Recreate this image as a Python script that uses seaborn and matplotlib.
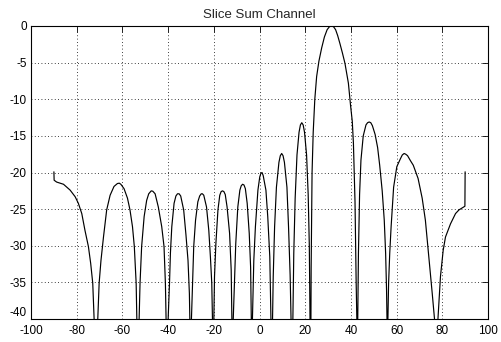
import matplotlib
matplotlib.use("Agg")
import matplotlib.pyplot as plt
import numpy as np
import pandas as pd
import seaborn as sns

# Sum-channel pattern slice: angle (deg) and normalised gain (dB)
angle_deg = [
    -90.0, -89.9, -88.8, -85.8, -82.9, -80.7, -79.3, -77.8, -76.4, -74.9, -73.9, -73.0, -72.4, -71.7,
    -70.8, -70.2, -69.4, -68.3, -66.9, -65.4, -63.7, -62.2, -61.4, -60.7, -59.3, -57.8, -56.7, -55.6, -54.8, -54.0, -53.7, -53.2,
    -52.7, -52.3, -51.6, -50.5, -49.4, -48.5, -47.4, -46.7, -45.7, -44.3, -42.8, -41.8, -41.2, -40.9, -40.5,
    -40.0, -39.4, -39.0, -38.4, -37.4, -36.6, -35.9, -35.2, -34.5, -33.2, -32.2, -31.3, -30.7, -30.5, -30.1,
    -29.8, -29.3, -28.8, -28.0, -27.0, -26.2, -25.5, -25.0, -24.4, -23.2, -22.2, -21.5, -20.9, -20.6, -20.3,
    -20.0, -19.7, -19.1, -18.2, -17.4, -16.8, -16.2, -15.6, -15.0, -14.2, -13.1, -12.4, -12.1, -11.8,
    -11.5, -10.9, -10.4, -9.5, -8.6, -8.0, -7.4, -6.8, -6.2, -5.4, -4.5, -3.9, -3.6, -3.3,
    -3.1, -2.5, -1.8, -0.7, 0.1, 0.6, 1.1, 1.6, 2.8, 3.6, 4.5, 5.0, 5.3,
    5.7, 6.0, 6.6, 7.4, 8.5, 9.1, 9.7, 10.3, 10.9, 12.0, 12.7, 13.4, 13.8, 14.2,
    14.6, 15.0, 15.6, 16.4, 17.3, 17.9, 18.5, 19.1, 19.7, 20.6, 21.3, 21.8, 22.1, 22.3,
    22.6, 23.0, 23.5, 24.2, 25.0, 26.0, 27.2, 28.4, 29.6, 30.6, 31.5, 32.4, 33.3, 34.2, 35.2, 36.3, 37.4,
    38.9, 39.9, 40.6, 41.1, 41.8, 42.3, 42.6, 42.8,
    43.0, 43.3, 43.8, 44.4, 45.4, 46.6, 47.3, 48.0, 48.7, 49.4, 50.6, 51.7, 52.6, 53.7, 54.6, 55.2, 55.6, 55.8, 56.0,
    56.2, 56.5, 57.0, 57.6, 58.7, 60.1, 61.7, 62.5, 63.3, 64.0, 64.8, 66.1, 67.3, 69.4, 71.2, 72.6, 74.1, 75.6, 76.6, 77.3,
    78.1, 79.2, 80.4, 81.4, 83.6, 85.8, 87.3, 89.9, 90.0,
]
gain_db = [
    -19.9, -21.05, -21.3, -21.6, -22.4, -23.3, -24.2, -25.6, -27.9, -30.1, -32.4, -35.1, -40.0, -55.0,
    -40.0, -35.1, -32.0, -28.8, -25.1, -23.1, -21.9, -21.5, -21.45, -21.6, -22.2, -23.5, -25.1, -27.4, -30.1, -35.1, -40.0, -55.0,
    -40.0, -35.1, -30.1, -26.0, -23.8, -22.9, -22.5, -22.55, -22.9, -24.7, -27.4, -30.1, -35.1, -40.0, -55.0,
    -40.0, -35.1, -31.0, -27.4, -24.2, -23.2, -22.9, -22.9, -23.2, -25.1, -28.5, -32.0, -36.5, -40.0, -55.0,
    -40.0, -35.1, -30.1, -26.5, -24.0, -23.2, -22.9, -22.9, -23.1, -24.7, -27.9, -31.5, -35.1, -40.0, -55.0,
    -40.0, -34.2, -29.7, -25.1, -23.1, -22.6, -22.5, -22.6, -23.0, -24.7, -28.3, -33.3, -40.0, -55.0,
    -40.0, -34.2, -29.7, -24.7, -22.4, -21.8, -21.6, -21.7, -22.2, -24.2, -28.3, -32.9, -40.0, -55.0,
    -40.0, -32.0, -27.4, -22.4, -20.6, -20.1, -20.0, -20.4, -22.4, -26.0, -31.5, -40.0, -55.0,
    -40.0, -34.2, -27.4, -22.0, -18.6, -17.7, -17.4, -17.7, -18.6, -22.0, -27.4, -34.0, -40.0, -55.0,
    -40.0, -31.0, -23.5, -17.6, -14.5, -13.5, -13.2, -13.5, -14.5, -17.6, -23.0, -30.0, -40.0, -55.0,
    -33.0, -20.0, -14.5, -10.0, -6.9, -4.8, -3.0, -1.5, -0.5, -0.1, 0.0, -0.1, -0.5, -1.3, -2.4, -3.7, -5.1,
    -7.8, -11.0, -13.0, -16.0, -24.0, -35.0, -40.0, -55.0,
    -40.0, -31.0, -23.0, -18.3, -15.0, -13.5, -13.2, -13.1, -13.2, -13.6, -14.8, -16.6, -19.0, -22.5, -26.5, -31.0, -36.0, -40.0, -55.0,
    -40.0, -35.1, -31.0, -27.4, -22.0, -19.2, -18.1, -17.6, -17.4, -17.5, -17.7, -18.4, -19.0, -20.8, -23.5, -26.5, -31.5, -36.5, -40.0, -55.0,
    -40.0, -34.2, -30.6, -28.8, -27.0, -25.6, -25.1, -24.6, -19.9,
]

x_ticks = [-100, -80, -60, -40, -20, 0, 20, 40, 60, 80, 100]
y_ticks = [-40, -35, -30, -25, -20, -15, -10, -5, 0]
title_text = "Slice Sum Channel"

sns.set_style("white")
plt.rcParams["font.family"] = ["Liberation Sans", "DejaVu Sans"]
plt.rcParams["font.size"] = 8.5

df = pd.DataFrame({"angle": angle_deg, "gain": gain_db})

fig = plt.figure(figsize=(5.01, 3.42), dpi=100)
ax = fig.add_axes([0.062, 0.067, 0.912, 0.857])

sns.lineplot(data=df, x="angle", y="gain", estimator=None, sort=False,
             color="black", linewidth=0.85, ax=ax)

ax.set_xlim(-100, 100)
ax.set_ylim(-40, 0)
ax.set_xticks(x_ticks)
ax.set_yticks(y_ticks)
ax.set_xticklabels([str(v) for v in x_ticks])
ax.set_yticklabels([str(v) for v in y_ticks])
ax.set_xlabel("")
ax.set_ylabel("")
ax.set_title(title_text, fontsize=9.5, pad=5.5)

ax.grid(True, linestyle=(0, (1, 3)), color="black", linewidth=0.6)
ax.tick_params(direction="in", length=4, width=0.6, top=True, right=True,
               labelsize=8.5, colors="black")
ax.tick_params(axis="x", pad=4)
ax.tick_params(axis="y", pad=3)
# lift the lowest y label a little so it clears the first x label
ax.get_yticklabels()[0].set_va("bottom")
for side in ax.spines.values():
    side.set_visible(True)
    side.set_color("black")
    side.set_linewidth(0.8)

fig.savefig("out.png", dpi=100, facecolor="white")
